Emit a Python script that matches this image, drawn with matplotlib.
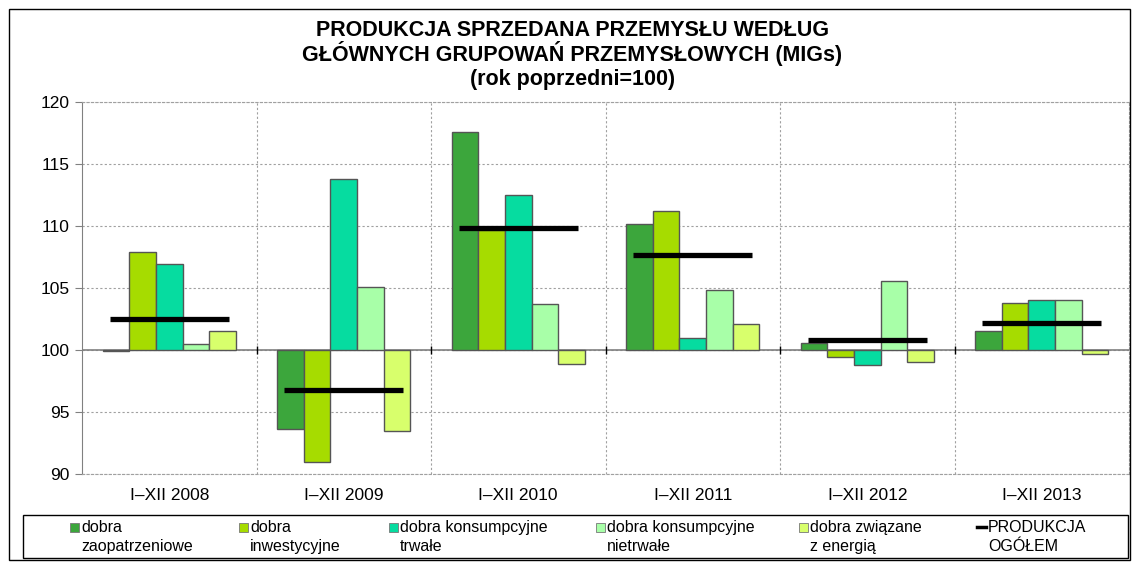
import matplotlib
matplotlib.use("Agg")
import matplotlib.pyplot as plt
from matplotlib.lines import Line2D
from matplotlib.patches import Rectangle
import numpy as np

plt.rcParams.update({
    "font.family": ["Liberation Sans", "DejaVu Sans"],
    "font.size": 11,
})

# dane (rok poprzedni = 100)
okresy = ["I–XII 2008", "I–XII 2009", "I–XII 2010", "I–XII 2011", "I–XII 2012", "I–XII 2013"]
zaopatrzeniowe = [99.9, 93.6, 117.6, 110.2, 100.6, 101.5]
inwestycyjne = [107.9, 91.0, 109.7, 111.2, 99.4, 103.8]
konsump_trwale = [106.9, 113.8, 112.5, 101.0, 98.8, 104.0]
konsump_nietrwale = [100.5, 105.1, 103.7, 104.8, 105.6, 104.0]
energia = [101.5, 93.5, 98.9, 102.1, 99.0, 99.7]
ogolem = [102.5, 96.8, 109.8, 107.7, 100.8, 102.2]

serie = [
    ("dobra\nzaopatrzeniowe", zaopatrzeniowe, "#3ca63c"),
    ("dobra\ninwestycyjne", inwestycyjne, "#a6dc00"),
    ("dobra konsumpcyjne\ntrwałe", konsump_trwale, "#06dca0"),
    ("dobra konsumpcyjne\nnietrwałe", konsump_nietrwale, "#a8ffa8"),
    ("dobra związane\nz energią", energia, "#d8ff6c"),
]

W, H = 1133, 562
fig = plt.figure(figsize=(W / 100, H / 100), dpi=100)
fig.patches.append(Rectangle((9 / W, 2 / H), 1121 / W, 551 / H, transform=fig.transFigure,
                             fill=False, edgecolor="black", linewidth=1.0))
ax = fig.add_axes([82 / W, 1 - 474 / H, 1047 / W, 372 / H])

x = np.arange(len(okresy))
w = 0.152
for i, (nazwa, wart, kol) in enumerate(serie):
    v = np.array(wart) - 100
    ax.bar(x + (i - 2) * w, v, width=w, bottom=100, color=kol,
           edgecolor="#555555", linewidth=1.0, zorder=3)

ax.hlines(ogolem, x - 0.34, x + 0.34, color="black", linewidth=3.8, zorder=4)

ax.axhline(100, color="#808080", linewidth=1.2, zorder=2)
granice = np.arange(len(okresy) - 1) + 0.5
ax.plot(granice, [100] * len(granice), linestyle="none", marker="|",
        markersize=6, color="black", zorder=2)

ax.set_xlim(-0.5, len(okresy) - 0.5)
ax.set_ylim(90, 120)
ax.set_yticks(np.arange(90, 121, 5))
ax.set_xticks(x)
ax.set_xticklabels(okresy, fontsize=12.5)
ax.tick_params(axis="x", length=0, pad=10)
ax.tick_params(axis="y", length=5, color="#808080", labelsize=12.5, pad=4)
ax.set_xticks(granice, minor=True)
ax.tick_params(axis="x", which="minor", length=0)
ax.grid(True, axis="y", ls=(0, (2, 2)), color="#a0a0a0", lw=0.8, zorder=0)
ax.grid(True, axis="x", which="minor", ls=(0, (2, 2)), color="#a0a0a0", lw=0.8, zorder=0)
for s in ["top", "right", "bottom"]:
    ax.spines[s].set_linestyle((0, (2, 2)))
    ax.spines[s].set_color("#a0a0a0")
    ax.spines[s].set_linewidth(0.8)
ax.spines["left"].set_color("#808080")

tytul = ["PRODUKCJA SPRZEDANA PRZEMYSŁU WEDŁUG",
         "GŁÓWNYCH GRUPOWAŃ PRZEMYSŁOWYCH (MIGs)",
         "(rok poprzedni=100)"]
for linia, yp in zip(tytul, [30, 53, 80]):
    fig.text(0.505, 1 - yp / H, linia, ha="center", va="center",
             fontsize=15.5, fontweight="bold")

# legenda rysowana recznie, zeby kolumny staly jak w oryginale
fig.patches.append(Rectangle((23 / W, 1 - 558 / H), 1105 / W, 43 / H,
                             transform=fig.transFigure, fill=False,
                             edgecolor="black", linewidth=1.0))
tekst_x = [81, 250, 400, 607, 810, 988]


def wpis(tx, nazwa):
    for k, czesc in enumerate(nazwa.split("\n")):
        fig.text(tx / W, 1 - (532 + 19 * k) / H, czesc, ha="left", va="baseline",
                 fontsize=11.5)


for (nazwa, _, kol), tx in zip(serie, tekst_x):
    fig.patches.append(Rectangle(((tx - 11) / W, 1 - 532 / H), 9 / W, 9 / H,
                                 transform=fig.transFigure, facecolor=kol,
                                 edgecolor="#777777", linewidth=0.6))
    wpis(tx, nazwa)
tx = tekst_x[-1]
fig.lines.append(Line2D([(tx - 11) / W, (tx - 2) / W], [1 - 527 / H] * 2,
                        transform=fig.transFigure, color="black", linewidth=2.5))
wpis(tx, "PRODUKCJA\nOGÓŁEM")

fig.savefig("out.png", dpi=100)
